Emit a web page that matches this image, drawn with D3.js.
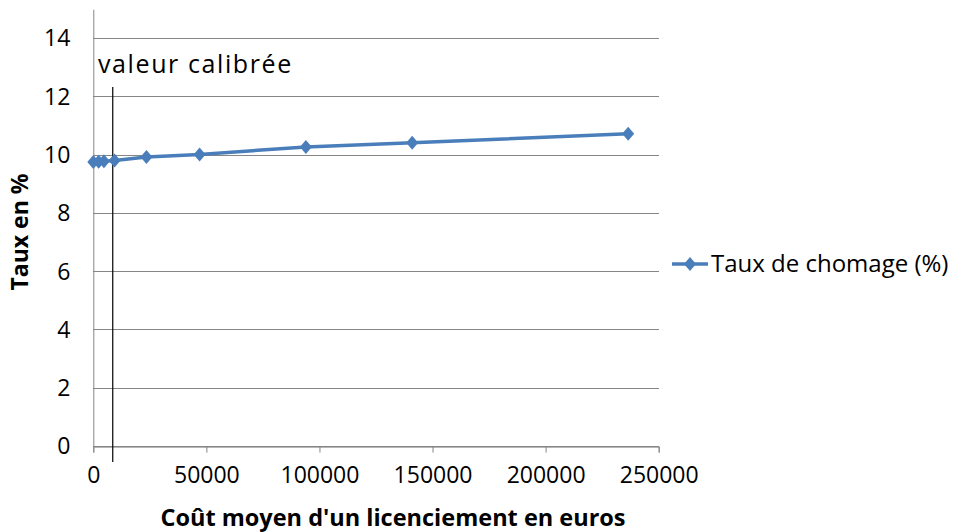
<!DOCTYPE html>
<html><head><meta charset="utf-8">
<script src="https://cdn.jsdelivr.net/npm/d3@7"></script>
<style>body{margin:0;background:#fff;} text{font-family:"Open Sans",Lato,sans-serif;fill:#000;}</style>
</head><body>
<script>
const costs = [0, 2350, 4700, 9400, 23500, 47000, 94000, 141000, 236500];
const rates = [9.76, 9.77, 9.79, 9.81, 9.93, 10.02, 10.28, 10.42, 10.73];
const yTicks = [0, 2, 4, 6, 8, 10, 12, 14];
const xTicks = [0, 50000, 100000, 150000, 200000, 250000];
const calibrated = 8600;
const seriesName = "Taux de chomage (%)";

const W = 956, H = 532;
const svg = d3.select("body").append("svg").attr("width", W).attr("height", H);
const x = d3.scaleLinear().domain([0, 250000]).range([93.3, 658.7]);
const y = d3.scaleLinear().domain([0, 15]).range([446.6, 9.3]);
const grey = "#868686";

// gridlines
svg.append("g").selectAll("line").data(yTicks).join("line")
  .attr("x1", x(0)).attr("x2", x(250000)).attr("y1", d => y(d)).attr("y2", d => y(d))
  .attr("stroke", grey).attr("stroke-width", 1).attr("shape-rendering", "crispEdges");

// axes
const xAxis = svg.append("g").attr("transform", `translate(0,${y(0)})`)
  .call(d3.axisBottom(x).tickValues(xTicks).tickFormat(d3.format("d")).tickSize(6).tickPadding(14));
xAxis.select(".domain").attr("stroke", grey);
xAxis.selectAll(".tick line").attr("stroke", grey);
xAxis.selectAll("text").attr("font-size", 23);

const yAxis = svg.append("g").attr("transform", `translate(${x(0)},0)`)
  .call(d3.axisLeft(y).tickValues(yTicks).tickSize(0).tickPadding(23));
yAxis.select(".domain").attr("stroke", grey);
yAxis.selectAll("text").attr("font-size", 23);

// calibrated line
svg.append("line").attr("x1", x(calibrated)).attr("x2", x(calibrated))
  .attr("y1", 87).attr("y2", 462).attr("stroke", "#000").attr("stroke-width", 1.2);
svg.append("text").attr("x", 98).attr("y", 73).attr("font-size", 25)
  .attr("letter-spacing", 1.6).text("valeur calibrée");

// series
const color = "#4a7ebb";
const pts = costs.map((c, i) => [c, rates[i]]);
svg.append("path").datum(pts)
  .attr("d", d3.line().x(d => x(d[0])).y(d => y(d[1])))
  .attr("fill", "none").attr("stroke", color).attr("stroke-width", 3.5).attr("stroke-linejoin", "round");
const diamondType = { draw(ctx, size) { const rx = 6, ry = 7; ctx.moveTo(0, -ry); ctx.lineTo(rx, 0); ctx.lineTo(0, ry); ctx.lineTo(-rx, 0); ctx.closePath(); } };
const diamond = d3.symbol().type(diamondType);
svg.append("g").selectAll("path").data(pts).join("path")
  .attr("transform", d => `translate(${x(d[0])},${y(d[1])})`)
  .attr("d", diamond).attr("fill", color);

// axis titles
svg.append("text").attr("x", 393).attr("y", 526).attr("text-anchor", "middle")
  .attr("font-size", 23.5).attr("font-weight", "bold").text("Coût moyen d'un licenciement en euros");
svg.append("text").attr("transform", "translate(28,232) rotate(-90)").attr("text-anchor", "middle")
  .attr("font-size", 23).attr("font-weight", "bold").text("Taux en %");

// legend
const lg = svg.append("g").attr("transform", "translate(672,264)");
lg.append("line").attr("x1", 0).attr("x2", 36).attr("stroke", color).attr("stroke-width", 3.5);
lg.append("path").attr("transform", "translate(18,0)").attr("d", diamond).attr("fill", color);
lg.append("text").attr("x", 39).attr("y", 8).attr("font-size", 24).text(seriesName);
</script>
</body></html>
